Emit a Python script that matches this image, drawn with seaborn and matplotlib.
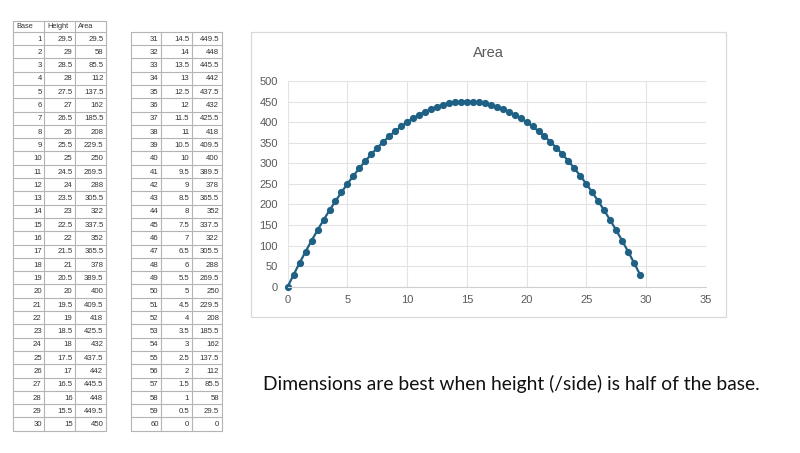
import matplotlib
matplotlib.use("Agg")
import matplotlib.pyplot as plt
import seaborn as sns

base = [1, 2, 3, 4, 5, 6, 7, 8, 9, 10, 11, 12, 13, 14, 15, 16, 17, 18, 19, 20,
        21, 22, 23, 24, 25, 26, 27, 28, 29, 30, 31, 32, 33, 34, 35, 36, 37, 38, 39, 40,
        41, 42, 43, 44, 45, 46, 47, 48, 49, 50, 51, 52, 53, 54, 55, 56, 57, 58, 59, 60]
height = [29.5, 29, 28.5, 28, 27.5, 27, 26.5, 26, 25.5, 25, 24.5, 24, 23.5, 23, 22.5,
          22, 21.5, 21, 20.5, 20, 19.5, 19, 18.5, 18, 17.5, 17, 16.5, 16, 15.5, 15,
          14.5, 14, 13.5, 13, 12.5, 12, 11.5, 11, 10.5, 10, 9.5, 9, 8.5, 8, 7.5,
          7, 6.5, 6, 5.5, 5, 4.5, 4, 3.5, 3, 2.5, 2, 1.5, 1, 0.5, 0]
area = [29.5, 58, 85.5, 112, 137.5, 162, 185.5, 208, 229.5, 250, 269.5, 288, 305.5, 322, 337.5,
        352, 365.5, 378, 389.5, 400, 409.5, 418, 425.5, 432, 437.5, 442, 445.5, 448, 449.5, 450,
        449.5, 448, 445.5, 442, 437.5, 432, 425.5, 418, 409.5, 400, 389.5, 378, 365.5, 352, 337.5,
        322, 305.5, 288, 269.5, 250, 229.5, 208, 185.5, 162, 137.5, 112, 85.5, 58, 29.5, 0]
colunas = ["Base", "Height", "Area"]
titulo = "Area"
nota = "Dimensions are best when height (/side) is half of the base."
xticks = [0, 5, 10, 15, 20, 25, 30, 35]
yticks = [0, 50, 100, 150, 200, 250, 300, 350, 400, 450, 500]


def fmt(v):
    return f"{v:g}"


sns.set_style("white")
plt.rcParams["font.family"] = ["Liberation Sans", "DejaVu Sans"]

W, H = 800, 453
fig = plt.figure(figsize=(W / 100, H / 100), dpi=100)

# camada de fundo em pixels (tabelas, moldura do grafico, nota)
bg = fig.add_axes([0, 0, 1, 1])
bg.set_xlim(0, W)
bg.set_ylim(H, 0)
bg.axis("off")

row_h = 13.3
top_rows = 31.7
grid_c = "#b4b4b4"
txt_c = "#333333"


def desenhar_tabela(x_cols, linhas, header):
    n = len(linhas)
    y_top = 21 if header else top_rows
    y_bot = top_rows + n * row_h
    for x in x_cols:
        bg.plot([x, x], [y_top, y_bot], color=grid_c, lw=0.8)
    ys = ([21] if header else []) + [top_rows + i * row_h for i in range(n + 1)]
    for y in ys:
        bg.plot([x_cols[0], x_cols[-1]], [y, y], color=grid_c, lw=0.8)
    if header:
        for j, nome in enumerate(colunas):
            bg.text(x_cols[j] + 3, 26.5, nome, fontsize=5.3, color=txt_c,
                    ha="left", va="center")
    for i, linha in enumerate(linhas):
        yc = top_rows + (i + 0.55) * row_h
        for j, v in enumerate(linha):
            bg.text(x_cols[j + 1] - 2.5, yc, fmt(v), fontsize=5.6, color=txt_c,
                    ha="right", va="center")


linhas = list(zip(base, height, area))
desenhar_tabela([13.3, 44.3, 75, 106], linhas[:30], True)
desenhar_tabela([130.5, 161.2, 191.7, 221.7], linhas[30:], False)

# moldura do grafico
bg.add_patch(plt.Rectangle((251, 32), 475, 285, fill=False, ec="#d9d9d9", lw=0.9))
bg.text(488, 53, titulo, fontsize=10.5, color="#595959", ha="center", va="center")
bg.text(263, 384, nota, fontsize=13.9, color="#111111", ha="left", va="center",
        family=["Lato", "DejaVu Sans"])

# grafico de dispersao com linhas
ax = fig.add_axes([287.7 / W, 1 - 286.7 / H, 418 / W, (286.7 - 81) / H])
sns.lineplot(x=height, y=area, sort=False, ax=ax, color="#1f6185", lw=1.6,
             marker="o", markersize=5.2, markeredgewidth=0)
for ln in ax.lines:
    ln.set_clip_on(False)
ax.set_xlim(0, 35)
ax.set_ylim(0, 500)
ax.set_xticks(xticks)
ax.set_yticks(yticks)
ax.grid(True, color="#e3e3e3", lw=0.8)
for s in ["top", "right", "left"]:
    ax.spines[s].set_visible(False)
ax.spines["bottom"].set_color("#d0d0d0")
ax.tick_params(axis="both", length=0, labelsize=8, labelcolor="#595959")
ax.tick_params(axis="x", pad=6)
ax.tick_params(axis="y", pad=7)
ax.set_xlabel("")
ax.set_ylabel("")
ax.set_facecolor("none")

fig.savefig("out.png", dpi=100)
